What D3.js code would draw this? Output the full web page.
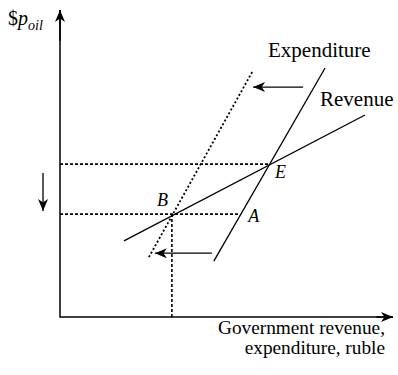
<!DOCTYPE html>
<html>
<head>
<meta charset="utf-8">
<title>Revenue and expenditure</title>
<script src="https://d3js.org/d3.v7.min.js"></script>
<style>
  body { margin: 0; background: #fff; }
  svg text { font-family: "Liberation Serif", "Times New Roman", serif; fill: #000; }
</style>
</head>
<body>
<div id="chart"></div>
<script>
// curves in abstract chart units (x: revenue/expenditure, y: oil price)
const revenue = [[1.92, 2.48], [9.16, 6.58]];
const expenditure = [[4.62, 1.82], [7.96, 8.11]];
const expenditureNew = [[2.67, 1.95], [5.77, 7.98]];

// guide lines (dotted)
const guides = [
  [[0, 4.98], [6.28, 4.98]],
  [[0, 3.35], [5.35, 3.35]],
  [[3.36, 0], [3.36, 3.35]]
];

// shift arrows [from, to]
const shifts = [
  [[7.30, 7.49], [5.80, 7.49]],
  [[4.56, 2.08], [2.85, 2.08]],
  [[-0.51, 4.69], [-0.51, 3.45]]
];

const points = [
  { name: "E", at: [6.28, 4.98], dx: 6, dy: 14 },
  { name: "B", at: [3.36, 3.35], dx: -15, dy: -8 },
  { name: "A", at: [5.35, 3.35], dx: 10, dy: 8 }
];

const width = 398, height = 375;
const x = d3.scaleLinear().domain([0, 10]).range([60, 393]);
const y = d3.scaleLinear().domain([0, 10]).range([317, 10]);

const svg = d3.select("#chart").append("svg")
  .attr("width", width).attr("height", height);

const defs = svg.append("defs");
defs.append("marker")
  .attr("id", "head")
  .attr("viewBox", "-13 -6 14 12")
  .attr("refX", 0).attr("refY", 0)
  .attr("markerWidth", 14).attr("markerHeight", 12)
  .attr("markerUnits", "userSpaceOnUse")
  .attr("orient", "auto")
  .append("path")
  .attr("d", "M0,0 L-12,-5 L-8.5,0 L-12,5 Z")
  .attr("fill", "#000");

const line = d3.line().x(d => x(d[0])).y(d => y(d[1]));

// axes
svg.append("path")
  .attr("d", line([[0, 10], [0, 0], [10, 0]]))
  .attr("fill", "none").attr("stroke", "#000").attr("stroke-width", 1.5);
// arrow heads on axes
svg.append("path")
  .attr("d", line([[0, 9], [0, 10]]))
  .attr("stroke", "#000").attr("stroke-width", 1.5)
  .attr("marker-end", "url(#head)");
svg.append("path")
  .attr("d", line([[9.5, 0], [10, 0]]))
  .attr("stroke", "#000").attr("stroke-width", 1.5)
  .attr("marker-end", "url(#head)");

// dotted guides
svg.selectAll(".guide").data(guides).join("path")
  .attr("class", "guide")
  .attr("d", line)
  .attr("fill", "none").attr("stroke", "#000")
  .attr("stroke-width", 1.6).attr("stroke-dasharray", "3,2");

// curves
svg.append("path").attr("d", line(revenue))
  .attr("fill", "none").attr("stroke", "#000").attr("stroke-width", 1.3);
svg.append("path").attr("d", line(expenditure))
  .attr("fill", "none").attr("stroke", "#000").attr("stroke-width", 1.3);
svg.append("path").attr("d", line(expenditureNew))
  .attr("fill", "none").attr("stroke", "#000")
  .attr("stroke-width", 1.8).attr("stroke-dasharray", "2,2.2");

// shift arrows
svg.selectAll(".shift").data(shifts).join("path")
  .attr("class", "shift")
  .attr("d", line)
  .attr("fill", "none").attr("stroke", "#000").attr("stroke-width", 1.3)
  .attr("marker-end", "url(#head)");

// point labels
svg.selectAll(".pt").data(points).join("text")
  .attr("class", "pt")
  .attr("x", d => x(d.at[0]) + d.dx)
  .attr("y", d => y(d.at[1]) + d.dy)
  .attr("font-size", 18).attr("font-style", "italic")
  .text(d => d.name);

// curve labels
svg.append("text").attr("x", 268).attr("y", 57)
  .attr("font-size", 21).text("Expenditure");
svg.append("text").attr("x", 320).attr("y", 106)
  .attr("font-size", 21).text("Revenue");

// axis titles
const yl = svg.append("text").attr("x", 8).attr("y", 25).attr("font-size", 20);
yl.append("tspan").text("$");
yl.append("tspan").attr("font-style", "italic").text("p");
yl.append("tspan").attr("font-style", "italic").attr("font-size", 14)
  .attr("dy", 5).text("oil");

svg.append("text").attr("x", 385).attr("y", 334).attr("text-anchor", "end")
  .attr("font-size", 19.3).text("Government revenue,");
svg.append("text").attr("x", 385).attr("y", 354).attr("text-anchor", "end")
  .attr("font-size", 19.3).text("expenditure, ruble");
</script>
</body>
</html>
